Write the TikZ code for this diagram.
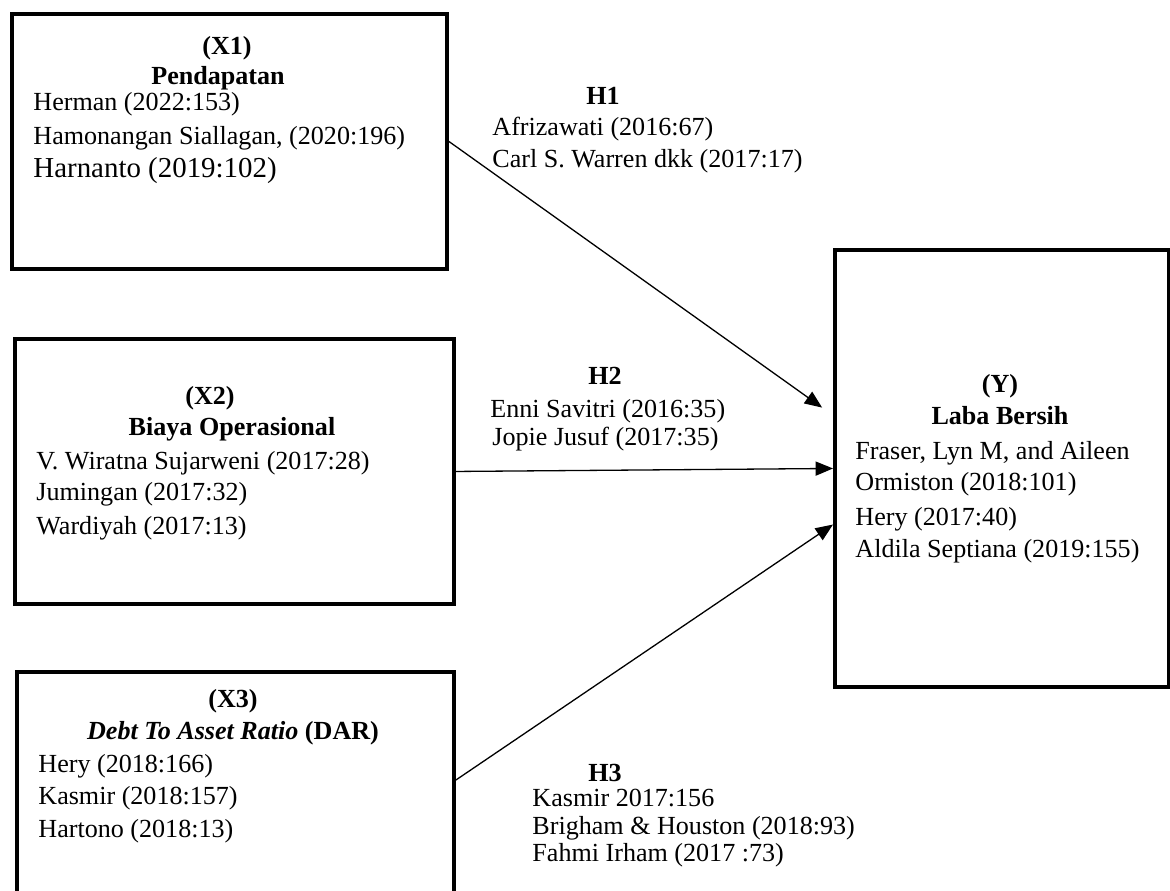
\documentclass[tikz,border=0pt]{standalone}
\usepackage{fontspec}
\setmainfont{Liberation Serif}
\usetikzlibrary{arrows.meta}

\begin{document}
\begin{tikzpicture}[x=0.46pt,y=-0.46pt]
\tikzset{
  txt/.style={inner sep=0pt,font=\fontsize{12}{14}\selectfont},
  box/.style 2 args={draw,line width=1.8pt,inner sep=0pt,anchor=north west,
    minimum width=#1*0.46pt,minimum height=#2*0.46pt},
  head/.style={txt,anchor=base,font=\fontsize{12}{14}\selectfont\bfseries},
  cite/.style={txt,anchor=base west},
  link/.style={line width=0.6pt,-{Triangle[length=8pt,width=6.5pt]}},
}
\useasboundingbox (0,0) rectangle (1170,890);
\clip (0,0) rectangle (1170,890);

% variable boxes
\node[box={435}{255}] (x1) at (10,12) {};
\node[box={439}{265}] (x2) at (13,337) {};
\node[box={437}{250}] (x3) at (15,670) {};
\node[box={334}{437}] (y) at (833,248) {};

% bold headings
\foreach \n/\i/\j/\t in {
    x1a/227/54/(X1), x1b/218/84/Pendapatan,
    x2a/210/404/(X2), x2b/232/435/Biaya Operasional,
    x3a/233/707/(X3), x3b/233/739/{\textit{Debt To Asset Ratio} (DAR)},
    ya/1000/392/(Y), yb/1000/424/Laba Bersih,
    h1/603/104/H1, h2/605/384/H2, h3/605/781/H3
}{
    \node[head] (\n) at (\i,\j) {\t};
}

% references
\foreach \n/\i/\j/\t in {
    r11/33/110/{Herman (2022:153)},
    r12/33/144/{Hamonangan Siallagan, (2020:196)},
    r21/36/469/{V. Wiratna Sujarweni (2017:28)},
    r22/36/500/{Jumingan (2017:32)},
    r23/36/534/{Wardiyah (2017:13)},
    r31/38/772/{Hery (2018:166)},
    r32/38/804/{Kasmir (2018:157)},
    r33/38/837/{Hartono (2018:13)},
    ry1/855/459/{Fraser, Lyn M, and Aileen},
    ry2/855/490/{Ormiston (2018:101)},
    ry3/855/525/{Hery (2017:40)},
    ry4/855/557/{Aldila Septiana (2019:155)},
    rh11/492/135/{Afrizawati (2016:67)},
    rh12/492/167/{Carl S. Warren dkk (2017:17)},
    rh21/490/417/{Enni Savitri (2016:35)},
    rh22/492/445/{Jopie Jusuf (2017:35)},
    rh31/532/806/{Kasmir 2017:156},
    rh32/532/834/{Brigham \& Houston (2018:93)},
    rh33/532/861/{Fahmi Irham (2017 :73)}
}{
    \node[cite] (\n) at (\i,\j) {\t};
}
\node[cite,font=\fontsize{13.3}{15}\selectfont] (r13) at (33,177) {Harnanto (2019:102)};

% hypotheses
\draw[link] (x1.east) -- ([xshift=-5pt,yshift=28pt]y.west);
\draw[link] (x2.east) -- (y.west);
\draw[link] ([yshift=7.8pt]x3.east) -- ([yshift=-25.8pt]y.west);
\end{tikzpicture}
\end{document}
